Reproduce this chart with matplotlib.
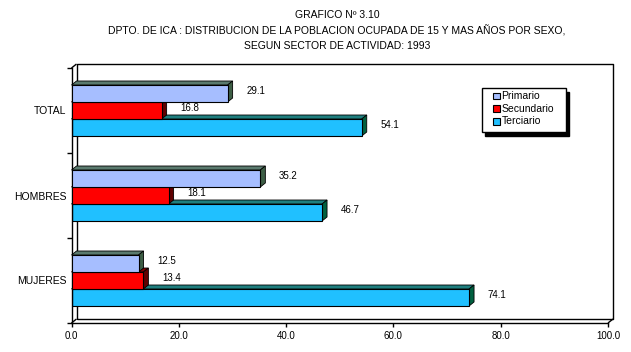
import matplotlib
matplotlib.use("Agg")
import matplotlib.pyplot as plt
from matplotlib.patches import Polygon, Rectangle

plt.rcParams['font.family'] = ['Liberation Sans', 'DejaVu Sans']

categories = ["TOTAL", "HOMBRES", "MUJERES"]
series_names = ["Primario", "Secundario", "Terciario"]
primario = [29.1, 35.2, 12.5]
secundario = [16.8, 18.1, 13.4]
terciario = [54.1, 46.7, 74.1]
xticks = [0, 20, 40, 60, 80, 100]
xtick_labels = ["0.0", "20.0", "40.0", "60.0", "80.0", "100.0"]
title_lines = ["GRAFICO Nº 3.10",
               "DPTO. DE ICA : DISTRIBUCION DE LA POBLACION OCUPADA DE 15 Y MAS AÑOS POR SEXO,",
               "SEGUN SECTOR DE ACTIVIDAD: 1993"]

W, H = 631, 352
fig = plt.figure(figsize=(W / 100, H / 100), dpi=100)
fig.patch.set_facecolor("white")

# axes front plane in pixels
x0p, x1p, ytp, ybp = 71.5, 608, 68, 323
ax = fig.add_axes([x0p / W, (H - ybp) / H, (x1p - x0p) / W, (ybp - ytp) / H])
ax.set_xlim(0, 100)
ax.set_ylim(0, 3)
ax.set_facecolor("none")

# depth offsets (pixels -> data units)
dpx, dpy = 5, 4
ddx = dpx * 100 / (x1p - x0p)
ddy = dpy * 3 / (ybp - ytp)

for s in ["top", "right"]:
    ax.spines[s].set_visible(False)
for s in ["left", "bottom"]:
    ax.spines[s].set_linewidth(1.0)
    ax.spines[s].set_color("black")

# back wall
lk = dict(color="black", lw=1.0, clip_on=False, zorder=1, solid_capstyle="butt")
ax.plot([ddx, ddx, 100 + ddx, 100 + ddx, ddx], [ddy, 3 + ddy, 3 + ddy, ddy, ddy], **lk)
ax.plot([0, ddx], [0, ddy], **lk)
ax.plot([100, 100 + ddx], [0, ddy], **lk)
ax.plot([0, ddx], [3, 3 + ddy], **lk)

n = len(categories)
centers = [n - 0.5 - i for i in range(n)]
bh = 0.2
series = [(terciario, -bh, "#20C0FF", "#1F7F7F", "#006040"),
          (secundario, 0.0, "#FF0000", "#800000", "#600000"),
          (primario, bh, "#A6BEFF", "#5A7A6E", "#3D5E45")]

z = 2
for vals, off, fc, tc, sc in series:
    ys = [c + off for c in centers]
    ax.barh(ys, vals, height=bh, color=fc, edgecolor="black", linewidth=0.8, zorder=z + 0.5)
    for v, y in zip(vals, ys):
        yb, yt = y - bh / 2, y + bh / 2
        top = Polygon([(0, yt), (v, yt), (v + ddx, yt + ddy), (ddx, yt + ddy)], closed=True,
                      facecolor=tc, edgecolor="black", linewidth=0.6, zorder=z, clip_on=False)
        side = Polygon([(v, yb), (v, yt), (v + ddx, yt + ddy), (v + ddx, yb + ddy)], closed=True,
                       facecolor=sc, edgecolor="black", linewidth=0.6, zorder=z, clip_on=False)
        ax.add_patch(top)
        ax.add_patch(side)
        ax.text(v + 3.5, y + 0.035, f"{v:.1f}", fontsize=7, ha="left", va="center", zorder=10)
    z += 1

ax.set_xticks(xticks)
ax.set_xticklabels(xtick_labels, fontsize=7)
ax.tick_params(axis="x", direction="out", length=3, width=1, pad=2.5)
ax.set_yticks([0, 1, 2, 3])
ax.set_yticklabels([])
ax.tick_params(axis="y", which="major", direction="out", length=3.5, width=1)
ax.set_yticks(centers, minor=True)
ax.set_yticklabels(categories, minor=True, fontsize=7.5)
ax.tick_params(axis="y", which="minor", length=0, pad=3.5)

# title
ys_t = [15, 31, 46]
for line, yp in zip(title_lines, ys_t):
    fig.text(337 / W, 1 - yp / H, line, ha="center", va="center", fontsize=7.5)

# legend (manual, pixel based)
def fx(px):
    return px / W
def fy(py):
    return 1 - py / H

lx0, ly0, lx1, ly1 = 481.5, 88, 565.5, 132
fig.patches.append(Rectangle((fx(lx0 + 3.5), fy(ly1 + 3.5)), (lx1 - lx0) / W, (ly1 - ly0) / H,
                             transform=fig.transFigure, facecolor="black", edgecolor="black", zorder=20))
fig.patches.append(Rectangle((fx(lx0), fy(ly1)), (lx1 - lx0) / W, (ly1 - ly0) / H,
                             transform=fig.transFigure, facecolor="white", edgecolor="black",
                             linewidth=1.0, zorder=21))
leg_colors = ["#A6BEFF", "#FF0000", "#20C0FF"]
for i, (name, col) in enumerate(zip(series_names, leg_colors)):
    yc = 95.7 + 12.8 * i
    fig.patches.append(Rectangle((fx(493), fy(yc + 3.3)), 6.5 / W, 6.5 / H, transform=fig.transFigure,
                                 facecolor=col, edgecolor="black", linewidth=0.8, zorder=22))
    fig.text(fx(501.5), fy(yc), name, ha="left", va="center", fontsize=7.5, zorder=23)

fig.savefig("out.png", dpi=100, facecolor="white")
